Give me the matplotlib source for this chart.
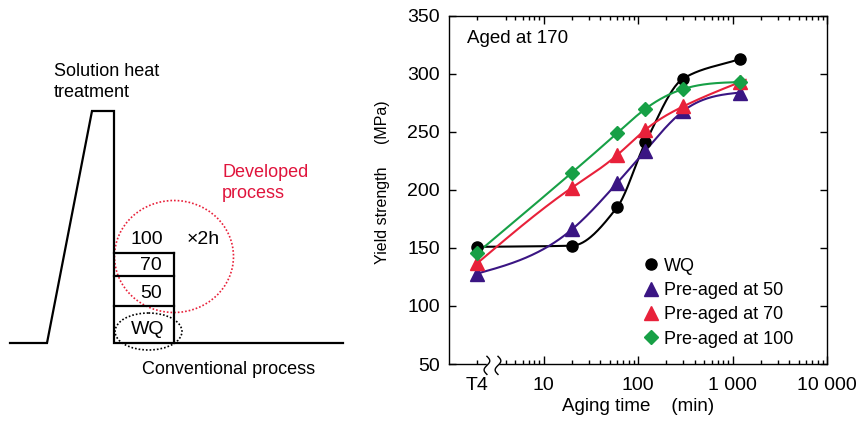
import numpy as np
import matplotlib
matplotlib.use('Agg')
import matplotlib.pyplot as plt
from matplotlib.patches import Ellipse
from matplotlib.ticker import FixedLocator, FuncFormatter

plt.rcParams['font.family'] = ['Liberation Sans', 'DejaVu Sans']
plt.rcParams['font.size'] = 13

# aging time in minutes, the T4 state is placed at 2 on the log axis
times = [2, 20, 60, 120, 300, 1200]
wq = [151, 152, 185, 241, 296, 313]
pre50 = [128, 166, 206, 234, 268, 284]
pre70 = [137, 202, 230, 252, 272, 293]
pre100 = [146, 215, 249, 270, 287, 293]
curve_ends = [1200, 1200, 1380, 1380]

labels = ['WQ', 'Pre-aged at 50', 'Pre-aged at 70', 'Pre-aged at 100']
colors = ['black', '#3a1583', '#e8213a', '#17a046']
markers = ['o', '^', '^', 'D']
msizes = [8, 9.5, 9.5, 7]

y_ticks = [50, 100, 150, 200, 250, 300, 350]
x_major = [10, 100, 1000, 10000]
x_major_labels = ['10', '100', '1 000', '10 000']

# schematic of the heat treatment (pixel coords of the left panel)
profile_x = [10, 47, 92, 114, 114, 343]
profile_y = [343, 343, 111, 111, 343, 343]
step_levels = [253, 276, 306]
step_right = 174
step_texts = [('100', 147, 239), ('70', 151, 265), ('50', 151, 293), ('WQ', 148, 330)]


def pchip(x, y, xn):
    x = np.asarray(x, float)
    y = np.asarray(y, float)
    h = np.diff(x)
    d = np.diff(y) / h
    m = np.zeros_like(y)
    for k in range(1, len(x) - 1):
        if d[k - 1] * d[k] > 0:
            w1 = 2 * h[k] + h[k - 1]
            w2 = h[k] + 2 * h[k - 1]
            m[k] = (w1 + w2) / (w1 / d[k - 1] + w2 / d[k])
    m[0] = d[0]
    m[-1] = d[-1]
    return hermite(x, y, m, xn)


def natural_spline(x, y, xn):
    # slopes of a natural cubic spline, then evaluated as hermite pieces
    x = np.asarray(x, float)
    y = np.asarray(y, float)
    n = len(x)
    h = np.diff(x)
    A = np.zeros((n, n))
    b = np.zeros(n)
    A[0, 0], A[-1, -1] = 1, 1
    for i in range(1, n - 1):
        A[i, i - 1] = h[i - 1]
        A[i, i] = 2 * (h[i - 1] + h[i])
        A[i, i + 1] = h[i]
        b[i] = 3 * ((y[i + 1] - y[i]) / h[i] - (y[i] - y[i - 1]) / h[i - 1])
    c = np.linalg.solve(A, b)
    m = np.empty(n)
    for i in range(n - 1):
        m[i] = (y[i + 1] - y[i]) / h[i] - h[i] * (2 * c[i] + c[i + 1]) / 3
    m[-1] = (y[-1] - y[-2]) / h[-1] + h[-1] * (2 * c[-1] + c[-2]) / 3
    return hermite(x, y, m, xn)


def hermite(x, y, m, xn):
    h = np.diff(x)
    out = np.empty_like(xn)
    for i, v in enumerate(xn):
        if v >= x[-1]:
            out[i] = y[-1] + m[-1] * (v - x[-1])
            continue
        k = max(min(np.searchsorted(x, v, side='right') - 1, len(x) - 2), 0)
        t = (v - x[k]) / h[k]
        h00 = 2 * t ** 3 - 3 * t ** 2 + 1
        h10 = t ** 3 - 2 * t ** 2 + t
        h01 = -2 * t ** 3 + 3 * t ** 2
        h11 = t ** 3 - t ** 2
        out[i] = h00 * y[k] + h10 * h[k] * m[k] + h01 * y[k + 1] + h11 * h[k] * m[k + 1]
    return out


fig = plt.figure(figsize=(8.6, 4.23), dpi=100)

# ---- left: process schematic
ax0 = fig.add_axes([0, 0, 350 / 860, 1])
ax0.set_xlim(0, 350)
ax0.set_ylim(423, 0)
ax0.axis('off')
ax0.plot(profile_x, profile_y, color='black', lw=1.6, solid_joinstyle='miter')
for lev in step_levels:
    ax0.plot([114, step_right], [lev, lev], color='black', lw=1.6)
ax0.plot([step_right, step_right], [step_levels[0], 343], color='black', lw=1.6)
for txt, tx, ty in step_texts:
    ax0.text(tx, ty, txt, ha='center', va='center', fontsize=14)
ax0.text(187, 239, '×2h', ha='left', va='center', fontsize=14)
ax0.add_patch(Ellipse((174, 256.5), 119, 112, fill=False, ec='#e8213a', ls=(0, (1, 1.2)), lw=1.2))
ax0.add_patch(Ellipse((148.5, 331.5), 67, 37, fill=False, ec='black', ls=(0, (1, 1.2)), lw=1.2))
ax0.text(54, 82, 'Solution heat\ntreatment', ha='left', va='center', linespacing=1.3)
ax0.text(222, 183, 'Developed\nprocess', ha='left', va='center', color='#e0143c', linespacing=1.3)
ax0.text(142, 369, 'Conventional process', ha='left', va='center')

# ---- right: yield strength vs aging time
ax = fig.add_axes([449 / 860, 59 / 423, 378 / 860, 348 / 423])
ax.set_xscale('log')
ax.set_xlim(1, 10000)
ax.set_ylim(50, 350)

series = [wq, pre50, pre70, pre100]
for j, (vals, col, end) in enumerate(zip(series, colors, curve_ends)):
    lx = np.linspace(np.log10(times[0]), np.log10(end), 300)
    fit = pchip if j == 0 else natural_spline
    ax.plot(10 ** lx, fit(np.log10(times), vals, lx), color=col, lw=1.5)
for vals, col, mk, ms, lab in zip(series, colors, markers, msizes, labels):
    ax.plot(times, vals, ls='none', marker=mk, ms=ms, color=col, label=lab)

ax.yaxis.set_major_locator(FixedLocator(y_ticks))
ax.xaxis.set_major_locator(FixedLocator(x_major))
ax.xaxis.set_major_formatter(FuncFormatter(
    lambda v, p: x_major_labels[x_major.index(round(v))] if round(v) in x_major else ''))
minor = [2] + list(range(4, 10)) + [b * k for b in (10, 100, 1000) for k in range(2, 10)]
ax.xaxis.set_minor_locator(FixedLocator(minor))
ax.xaxis.set_minor_formatter(FuncFormatter(lambda v, p: 'T4' if abs(v - 2) < 1e-6 else ''))
ax.tick_params(axis='both', which='both', direction='in', top=True, right=True, labelsize=14)
ax.tick_params(axis='y', which='major', length=5, width=1, pad=6.5)
ax.tick_params(axis='x', which='major', length=5.5, width=1, pad=9)
ax.tick_params(axis='x', which='minor', length=3, width=1, pad=9)
for sp in ax.spines.values():
    sp.set_linewidth(1)

# axis break next to T4: gap in the spine and two wavy marks
tr = ax.get_xaxis_transform()
ax.plot([2.58, 3.22], [0, 0], transform=tr, color='white', lw=2.5, clip_on=False, zorder=5)
s = np.linspace(0, 1, 60)
for xb in (2.52, 3.3):
    ax.plot(xb * 10 ** (0.03 * np.sin(2 * np.pi * s)), 0.022 - 0.052 * s, transform=tr,
            color='black', lw=1, clip_on=False, zorder=6)

ax.text(0.048, 0.934, 'Aged at 170', transform=ax.transAxes, ha='left', va='center', fontsize=13.5)
ax.set_xlabel('Aging time    (min)', fontsize=13.5)
ax.xaxis.set_label_coords(0.5, -0.098)
ax.set_ylabel('Yield strength     (MPa)', fontsize=11.5)
ax.yaxis.set_label_coords(-0.155, 0.523)

ax.legend(loc='upper left', bbox_to_anchor=(0.51, 0.306), frameon=False, borderpad=0,
          borderaxespad=0, handlelength=1.0, handletextpad=0.25, labelspacing=0.41, fontsize=13)

fig.savefig('out.png', dpi=100)
